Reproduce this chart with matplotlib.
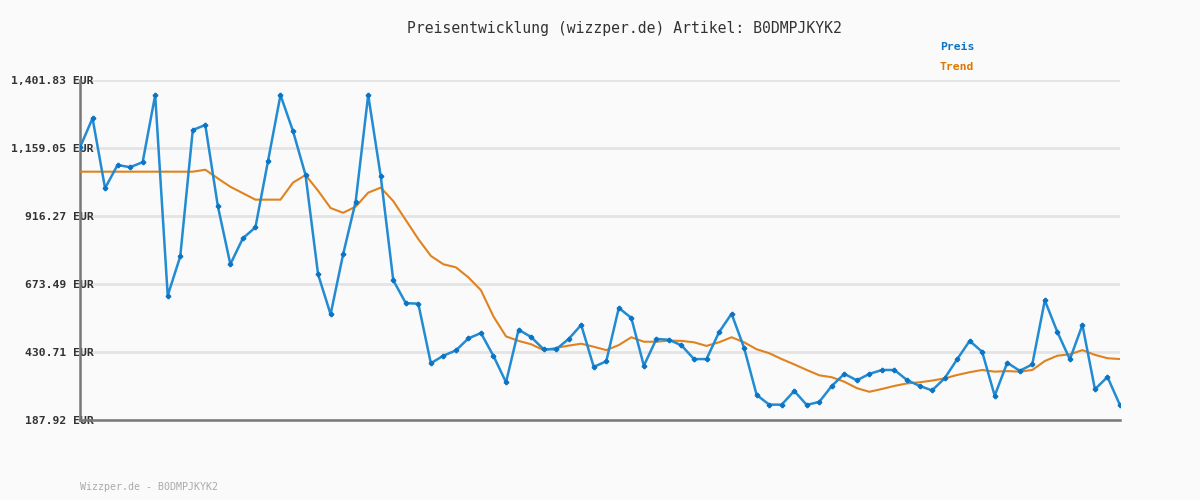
import numpy as np
import matplotlib.pyplot as plt

# Werte (EUR)
preis = [1161, 1265, 1015, 1098, 1090, 1108, 1348, 631, 771, 1223,
         1241, 951, 743, 836, 875, 1111, 1348, 1219, 1062, 707,
         564, 779, 967, 1348, 1058, 686, 604, 602, 389, 416,
         435, 478, 497, 415, 321, 509, 483, 439, 439, 476,
         526, 376, 396, 587, 551, 380, 476, 473, 453, 404,
         404, 500, 566, 444, 276, 241, 241, 290, 240, 251,
         308, 351, 328, 351, 365, 365, 329, 308, 292, 335,
         403, 469, 430, 273, 391, 362, 385, 614, 501, 403,
         526, 296, 340, 239]

trend = [1074, 1074, 1074, 1074, 1074, 1074, 1074, 1074, 1074, 1074,
         1081, 1050, 1020, 997, 974, 974, 974, 1035, 1062, 1006,
         944, 927, 949, 999, 1017, 969, 901, 833, 773, 743,
         732, 696, 650, 556, 485, 469, 457, 436, 444, 452,
         459, 448, 436, 454, 482, 466, 466, 470, 469, 464,
         451, 464, 482, 464, 439, 425, 404, 385, 365, 346,
         339, 323, 300, 287, 297, 308, 317, 321, 327, 335,
         347, 357, 365, 359, 361, 359, 365, 397, 416, 421,
         436, 419, 407, 404]

y_ticks = [187.92, 430.71, 673.49, 916.27, 1159.05, 1401.83]
y_labels = ['187.92 EUR', '430.71 EUR', '673.49 EUR', '916.27 EUR', '1,159.05 EUR', '1,401.83 EUR']

artikel = 'B0DMPJKYK2'

bg = '#fafafa'
fig = plt.figure(figsize=(12, 5), dpi=100, facecolor=bg)
ax = fig.add_axes([80 / 1200, (500 - 419.5) / 500, 1040 / 1200, 339.5 / 500])
ax.set_facecolor(bg)

x = np.arange(len(preis))
ax.plot(x, trend, color='#e0821e', linewidth=1.5, zorder=3)
ax.plot(x, preis, color='#228bd2', linewidth=1.8, marker='P', markersize=3,
        markerfacecolor='#0b74c4', markeredgecolor='#0b74c4', zorder=4)

ax.set_xlim(0, len(preis) - 1)
ax.set_ylim(y_ticks[0], y_ticks[-1])
ax.set_xticks([])
ax.set_yticks(y_ticks)
ax.set_yticklabels(y_labels, family='DejaVu Sans Mono', fontsize=8.2,
                   fontweight='bold', color='#333333')
ax.tick_params(axis='y', length=0, pad=-10)
for t in ax.get_yticklabels():
    t.set_zorder(5)

ax.grid(axis='y', color='#e4e4e4', linewidth=2)
ax.set_axisbelow(True)
for s in ['top', 'right']:
    ax.spines[s].set_visible(False)
for s in ['left', 'bottom']:
    ax.spines[s].set_color('#777777')
    ax.spines[s].set_linewidth(1.8)

fig.text(624 / 1200, 1 - 28 / 500, 'Preisentwicklung (wizzper.de) Artikel: ' + artikel,
         ha='center', va='center', family='DejaVu Sans Mono', fontsize=10.6, color='#333333')
fig.text(940 / 1200, 1 - 47 / 500, 'Preis', ha='left', va='center',
         family='DejaVu Sans Mono', fontsize=8.2, fontweight='bold', color='#0b74c4')
fig.text(940 / 1200, 1 - 67 / 500, 'Trend', ha='left', va='center',
         family='DejaVu Sans Mono', fontsize=8.2, fontweight='bold', color='#dd7700')
fig.text(80 / 1200, 1 - 487 / 500, 'Wizzper.de - ' + artikel, ha='left', va='center',
         family='DejaVu Sans Mono', fontsize=7.2, color='#aaaaaa')

fig.savefig('out.png', dpi=100, facecolor=bg)
